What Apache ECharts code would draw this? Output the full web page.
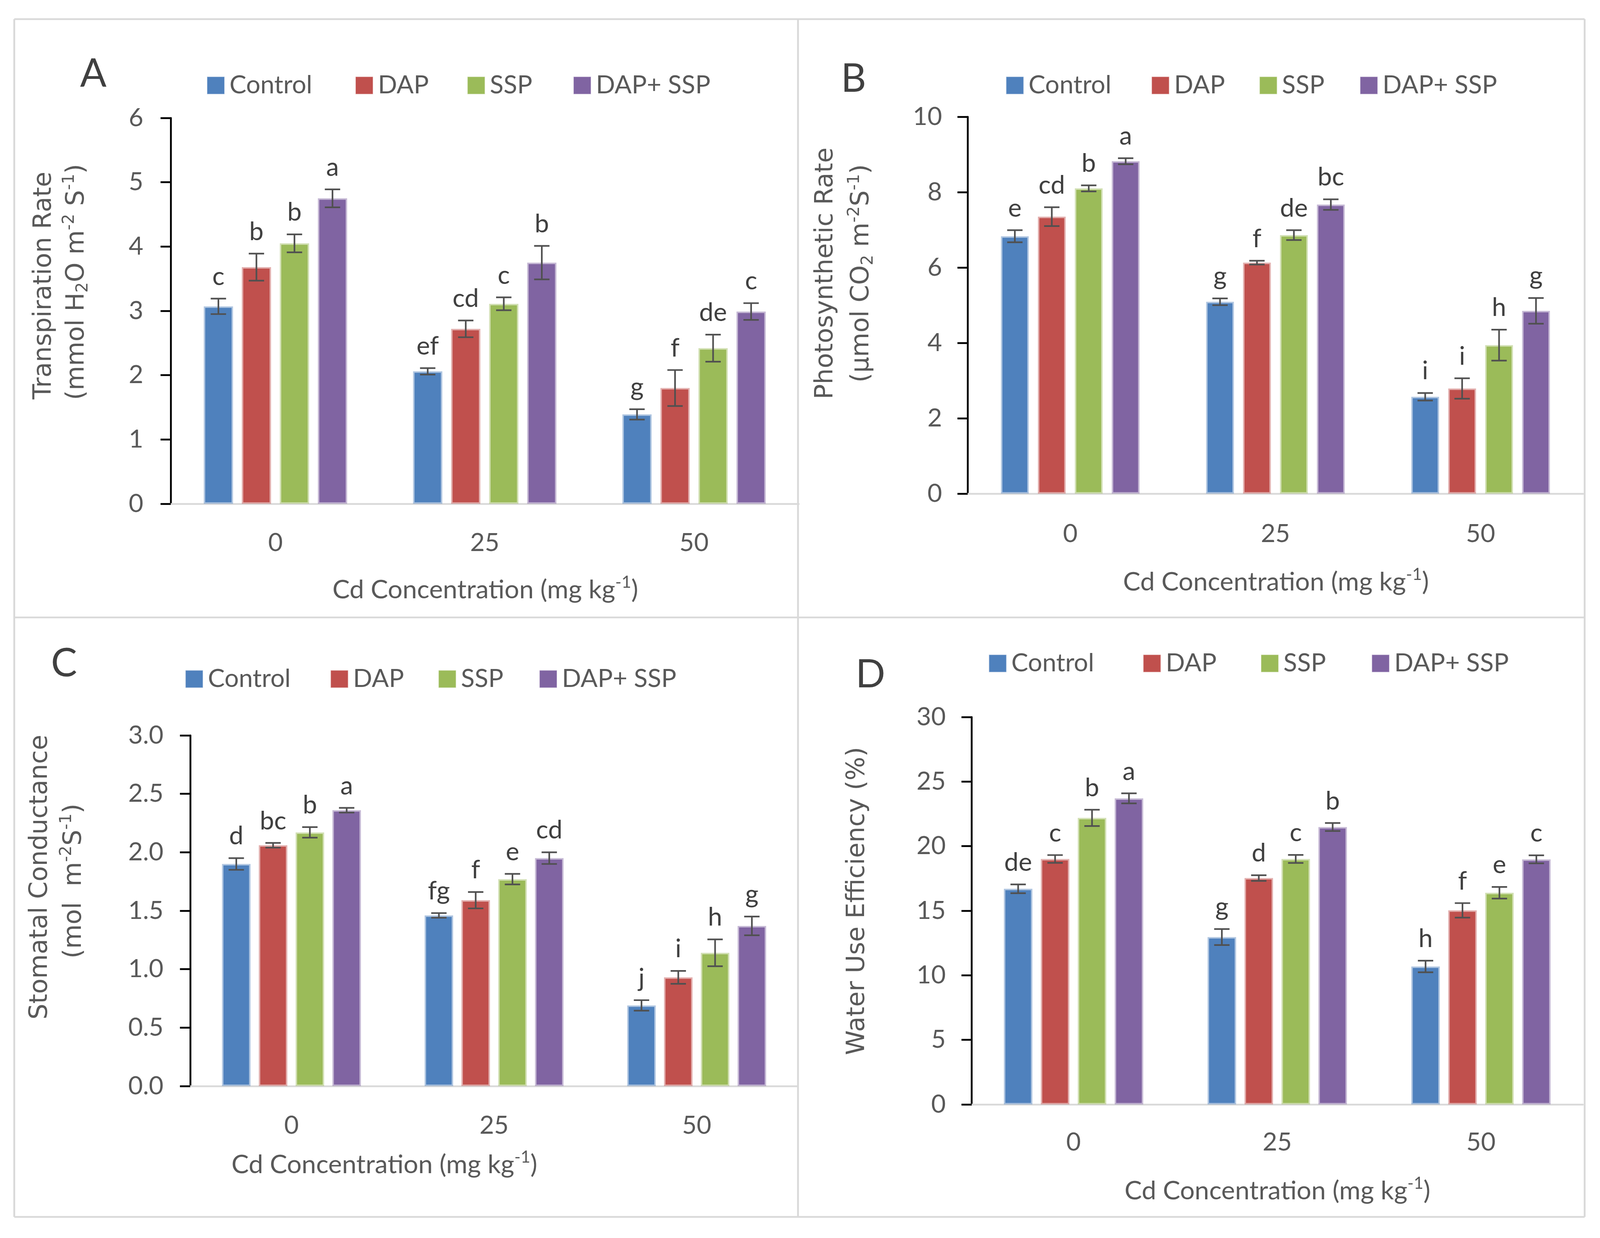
<!DOCTYPE html>
<html><head><meta charset="utf-8">
<script src="https://cdn.jsdelivr.net/npm/echarts@6.0.0/dist/echarts.min.js"></script>
<style>html,body{margin:0;padding:0;background:#fff;overflow:hidden}#chart{width:100vw;height:100vh}</style>
</head><body><div id="chart"></div>
<script>
// ---------- data ----------
const categories = ['0', '25', '50'];
const treatments = ['Control', 'DAP', 'SSP', 'DAP+ SSP'];
const colors = ['#4F81BD', '#C0504D', '#9BBB59', '#8064A2'];

// A: Transpiration rate (rows = treatments, cols = Cd levels)
const transpirationMean = [[3.07, 2.06, 1.39], [3.68, 2.72, 1.80], [4.05, 3.11, 2.42], [4.75, 3.75, 2.99]];
const transpirationErr = [[0.12, 0.05, 0.08], [0.21, 0.13, 0.28], [0.14, 0.10, 0.21], [0.14, 0.26, 0.13]];
const transpirationLetters = [['c', 'ef', 'g'], ['b', 'cd', 'f'], ['b', 'c', 'de'], ['a', 'b', 'c']];

// B: Photosynthetic rate
const photoMean = [[6.83, 5.09, 2.57], [7.35, 6.13, 2.79], [8.10, 6.86, 3.94], [8.82, 7.67, 4.85]];
const photoErr = [[0.16, 0.09, 0.10], [0.25, 0.05, 0.27], [0.08, 0.13, 0.41], [0.08, 0.14, 0.34]];
const photoLetters = [['e', 'g', 'i'], ['cd', 'f', 'i'], ['b', 'de', 'h'], ['a', 'bc', 'g']];

// C: Stomatal conductance
const stomatalMean = [[1.90, 1.46, 0.69], [2.06, 1.59, 0.93], [2.17, 1.77, 1.14], [2.36, 1.95, 1.37]];
const stomatalErr = [[0.05, 0.02, 0.045], [0.02, 0.07, 0.055], [0.045, 0.045, 0.115], [0.02, 0.05, 0.08]];
const stomatalLetters = [['d', 'fg', 'j'], ['bc', 'f', 'i'], ['b', 'e', 'h'], ['a', 'cd', 'g']];

// D: Water use efficiency
const wueMean = [[16.70, 12.96, 10.68], [19.01, 17.53, 15.03], [22.19, 19.01, 16.39], [23.70, 21.48, 18.98]];
const wueErr = [[0.34, 0.62, 0.45], [0.30, 0.22, 0.56], [0.63, 0.31, 0.45], [0.39, 0.31, 0.31]];
const wueLetters = [['de', 'g', 'h'], ['c', 'd', 'f'], ['b', 'c', 'e'], ['a', 'b', 'c']];

// y-axis tick specs
const yMax = [6, 10, 3, 30];
const yInterval = [1, 2, 0.5, 5];
const yDecimals = [0, 0, 1, 0];

// ---------- layout (reference pixel space 4375 x 3170, scaled to the viewport) ----------
const el = document.getElementById('chart');
const VW = el.clientWidth || window.innerWidth, VH = el.clientHeight || window.innerHeight;
const sx = VW / 4375, sy = VH / 3170, sf = Math.min(sx, sy);
const X = v => v * sx, Y = v => v * sy, S = v => v * sf, SV = v => v * sy;

const FONT = 'Lato, "Liberation Sans", sans-serif';
const TFONT = '"DejaVu Sans", Verdana, sans-serif';
const TEXT = '#595959', DARK = '#404040', LINE = '#D9D9D9', ERR = '#505050';

const panels = [
  {mean: transpirationMean, err: transpirationErr, letters: transpirationLetters,
   grid: [467, 302, 1717, 988], barWidth: 80, pitch: 104, xMargin: 68, yMargin: 75,
   legendX: [566, 972, 1278, 1568], legendY: 218},
  {mean: photoMean, err: photoErr, letters: photoLetters,
   grid: [2646, 299, 1683, 965], barWidth: 76, pitch: 101, xMargin: 71, yMargin: 70,
   legendX: [2751, 3149, 3444, 3719], legendY: 218},
  {mean: stomatalMean, err: stomatalErr, letters: stomatalLetters,
   grid: [520, 1883, 1662, 898], barWidth: 78, pitch: 100.6, xMargin: 69, yMargin: 73,
   legendX: [507, 904, 1199, 1475], legendY: 1738},
  {mean: wueMean, err: wueErr, letters: wueLetters,
   grid: [2657, 1836, 1671, 992], barWidth: 78, pitch: 101, xMargin: 65, yMargin: 71,
   legendX: [2704, 3126, 3448, 3751], legendY: 1698}
];

function rgba(hex, a) {
  const n = parseInt(hex.slice(1), 16);
  return 'rgba(' + (n >> 16 & 255) + ',' + (n >> 8 & 255) + ',' + (n & 255) + ',' + a + ')';
}

const grid = [], xAxis = [], yAxis = [], series = [], legend = [];

panels.forEach((p, pi) => {
  grid.push({left: X(p.grid[0]), top: Y(p.grid[1]), width: X(p.grid[2]), height: Y(p.grid[3])});
  xAxis.push({
    type: 'category', gridIndex: pi, data: categories,
    axisLine: {lineStyle: {color: LINE, width: S(5)}},
    axisTick: {show: false},
    axisLabel: {margin: Y(p.xMargin), color: TEXT, fontSize: S(69), fontFamily: FONT},
    splitLine: {show: false}
  });
  yAxis.push({
    type: 'value', gridIndex: pi, min: 0, max: yMax[pi], interval: yInterval[pi],
    axisLine: {show: true, lineStyle: {color: '#000', width: S(5)}},
    axisTick: {show: true, length: X(28), lineStyle: {color: '#000', width: S(5)}},
    axisLabel: {margin: X(p.yMargin), color: TEXT, fontSize: S(69), fontFamily: FONT,
                formatter: v => v.toFixed(yDecimals[pi])},
    splitLine: {show: false}
  });
  const gap = ((p.pitch - p.barWidth) / p.barWidth * 100).toFixed(1) + '%';
  treatments.forEach((name, ti) => {
    series.push({
      type: 'bar', name, xAxisIndex: pi, yAxisIndex: pi, data: p.mean[ti],
      barWidth: X(p.barWidth), barGap: gap,
      itemStyle: {color: colors[ti], borderColor: rgba(colors[ti], 0.45), borderWidth: S(8)},
      emphasis: {disabled: true}, animation: false
    });
    series.push({
      type: 'custom', name, xAxisIndex: pi, yAxisIndex: pi, z: 5, animation: false,
      encode: {x: 0, y: 1},
      data: p.mean[ti].map((m, ci) => [ci, m, p.err[ti][ci]]),
      renderItem: (params, api) => {
        const ci = api.value(0), m = api.value(1), e = api.value(2);
        const off = (ti - 1.5) * X(p.pitch);
        const top = api.coord([ci, m + e]);
        const bot = api.coord([ci, m - e]);
        const x = top[0] + off, hw = X(21);
        const st = {stroke: ERR, lineWidth: S(4.5)};
        return {type: 'group', children: [
          {type: 'line', shape: {x1: x, y1: top[1], x2: x, y2: bot[1]}, style: st},
          {type: 'line', shape: {x1: x - hw, y1: top[1], x2: x + hw, y2: top[1]}, style: st},
          {type: 'line', shape: {x1: x - hw, y1: bot[1], x2: x + hw, y2: bot[1]}, style: st},
          {type: 'text', style: {text: p.letters[ti][params.dataIndex], x: x, y: top[1] - Y(23),
            fill: DARK, fontSize: S(70), fontFamily: FONT, align: 'center', verticalAlign: 'bottom'}}
        ]};
      }
    });
    legend.push({
      left: X(p.legendX[ti]), top: Y(p.legendY) - S(34), padding: 0, data: [name], icon: 'rect',
      itemWidth: S(46), itemHeight: S(46), selectedMode: false,
      textStyle: {color: TEXT, fontSize: S(69), fontFamily: FONT, padding: [0, 0, 0, S(9)]}
    });
  });
});

// ---------- texts & frame ----------
const nStyle = {fontSize: SV(64), fontFamily: TFONT, fill: TEXT};
const supT = {fontSize: SV(42), fontFamily: TFONT, fill: TEXT, padding: [0, 0, SV(38), 0]};
const subT = {fontSize: SV(42), fontFamily: TFONT, fill: TEXT, padding: [SV(32), 0, 0, 0]};
const xn = {fontSize: S(71), fontFamily: FONT, fill: TEXT};
const xs = {fontSize: S(46), fontFamily: FONT, fill: TEXT, padding: [0, 0, S(42), 0]};

function ytitle(x, y, text, rich) {
  return {type: 'text', x: X(x), y: Y(y), rotation: Math.PI / 2, silent: true,
    style: {text, rich: rich ? {n: nStyle, sup: supT, sub: subT} : undefined,
      fontSize: SV(64), fontFamily: TFONT, fill: TEXT, align: 'center', verticalAlign: 'middle'}};
}
function xtitle(x, y) {
  return {type: 'text', x: X(x), y: Y(y), silent: true,
    style: {text: '{n|Cd Concentration (mg kg}{s|-1}{n|)}', rich: {n: xn, s: xs},
      fontSize: S(71), fontFamily: FONT, fill: TEXT, align: 'center', verticalAlign: 'middle'}};
}
function plabel(t, x, y) {
  return {type: 'text', x: X(x), y: Y(y), silent: true,
    style: {text: t, fontSize: SV(100), fontFamily: FONT, fill: DARK, align: 'center', verticalAlign: 'middle'}};
}
function ln(x1, y1, x2, y2) {
  return {type: 'line', silent: true, shape: {x1: X(x1), y1: Y(y1), x2: X(x2), y2: Y(y2)},
    style: {stroke: LINE, lineWidth: S(5)}};
}

const graphicEls = [
  ln(39, 49, 4333, 49), ln(39, 3116, 4333, 3116), ln(39, 49, 39, 3116), ln(4333, 49, 4333, 3116),
  ln(2182, 49, 2182, 3116), ln(39, 1581, 4333, 1581),
  plabel('A', 255, 190), plabel('B', 2334, 203), plabel('C', 175, 1700), plabel('D', 2380, 1728),
  xtitle(1327, 1511), xtitle(3489, 1491), xtitle(1051, 2983), xtitle(3493, 3050),
  ytitle(121, 731, 'Transpiration Rate', false),
  ytitle(211, 722, '{n|(mmol H}{sub|2}{n|O m}{sup|-2}{n| S}{sup|-1}{n|)}', true),
  ytitle(2258, 700, 'Photosynthetic Rate', false),
  ytitle(2357, 700, '{n|(\u00B5mol CO}{sub|2}{n| m}{sup|-2}{n|S}{sup|-1}{n|)}', true),
  ytitle(110, 2246, 'Stomatal Conductance', false),
  ytitle(203, 2256, '{n|(mol  m}{sup|-2}{n|S}{sup|-1}{n|)}', true),
  ytitle(2345, 2307, 'Water Use Efficiency (%)', false)
];

const chart = echarts.init(el, null, {renderer: 'canvas'});
chart.setOption({
  backgroundColor: '#ffffff',
  animation: false,
  grid, xAxis, yAxis, series, legend,
  graphic: {elements: graphicEls}
});
</script>
</body></html>
